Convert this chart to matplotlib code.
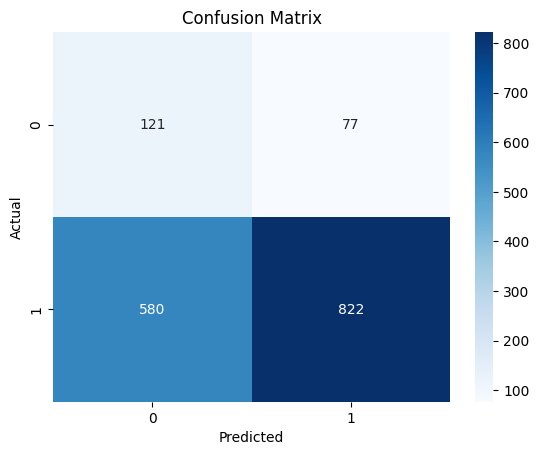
import matplotlib
matplotlib.use("Agg")
import matplotlib.pyplot as plt
import seaborn as sns
import numpy as np

labels = [0, 1]
cm = np.array([[121, 77],
               [580, 822]])

fig = plt.figure(figsize=(6.4, 4.8), dpi=100)
sns.heatmap(cm, annot=True, fmt="d", cmap="Blues", xticklabels=labels, yticklabels=labels)
plt.title("Confusion Matrix")
plt.xlabel("Predicted")
plt.ylabel("Actual")
plt.savefig("out.png", dpi=100, bbox_inches="tight")
